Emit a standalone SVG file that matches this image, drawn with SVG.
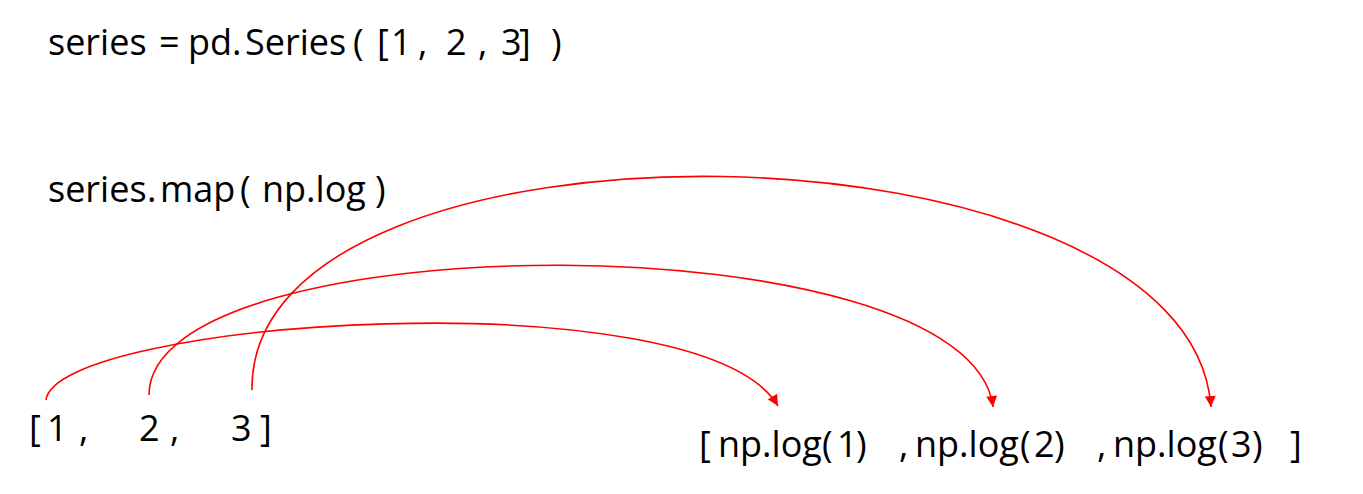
<svg xmlns="http://www.w3.org/2000/svg" width="1363" height="494" viewBox="0 0 1363 494">
<style>
text{font-family:"Open Sans","Noto Sans","DejaVu Sans",sans-serif;font-size:36px;fill:#000}
.c{fill:none;stroke:#ff0000;stroke-width:1.6}
</style>
<defs>
<marker id="ah" viewBox="0 0 10 10" refX="10" refY="5" markerWidth="12" markerHeight="11" markerUnits="userSpaceOnUse" orient="auto">
<path d="M0,0 L10,5 L0,10 z" fill="#ff0000"/>
</marker>
</defs>
<rect width="1363" height="494" fill="#fff"/>
<g id="line1"><text y="55"><tspan x="48">series</tspan><tspan x="159">=</tspan><tspan x="188">pd.</tspan><tspan x="245">Series</tspan><tspan x="353">(</tspan><tspan x="377">[</tspan><tspan x="391">1</tspan><tspan x="418">,</tspan><tspan x="446">2</tspan><tspan x="478">,</tspan><tspan x="501">3</tspan><tspan x="519">]</tspan><tspan x="551">)</tspan></text></g>
<g id="line2"><text y="202"><tspan x="48">series</tspan><tspan x="147">.</tspan><tspan x="160">map</tspan><tspan x="240">(</tspan><tspan x="262">np.log</tspan><tspan x="375">)</tspan></text></g>
<g id="input"><text y="441"><tspan x="29">[</tspan><tspan x="47">1</tspan><tspan x="79">,</tspan><tspan x="139">2</tspan><tspan x="170">,</tspan><tspan x="231">3</tspan><tspan x="260">]</tspan></text></g>
<g id="output"><text y="457"><tspan x="699">[</tspan><tspan x="718">np.log</tspan><tspan x="822">(</tspan><tspan x="837">1</tspan><tspan x="856">)</tspan><tspan x="899">,</tspan><tspan x="915">np.log</tspan><tspan x="1020">(</tspan><tspan x="1034">2</tspan><tspan x="1054">)</tspan><tspan x="1097">,</tspan><tspan x="1113">np.log</tspan><tspan x="1218">(</tspan><tspan x="1231">3</tspan><tspan x="1252">)</tspan><tspan x="1290">]</tspan></text></g>
<g id="connectors">
<path class="c" marker-end="url(#ah)" d="M46,400 C55,320 700,275 778,406"/>
<path class="c" marker-end="url(#ah)" d="M149,395 C149,222 970,218 993,407"/>
<path class="c" marker-end="url(#ah)" d="M252,390 C248,95 1190,110 1211,407"/>
</g>
</svg>
